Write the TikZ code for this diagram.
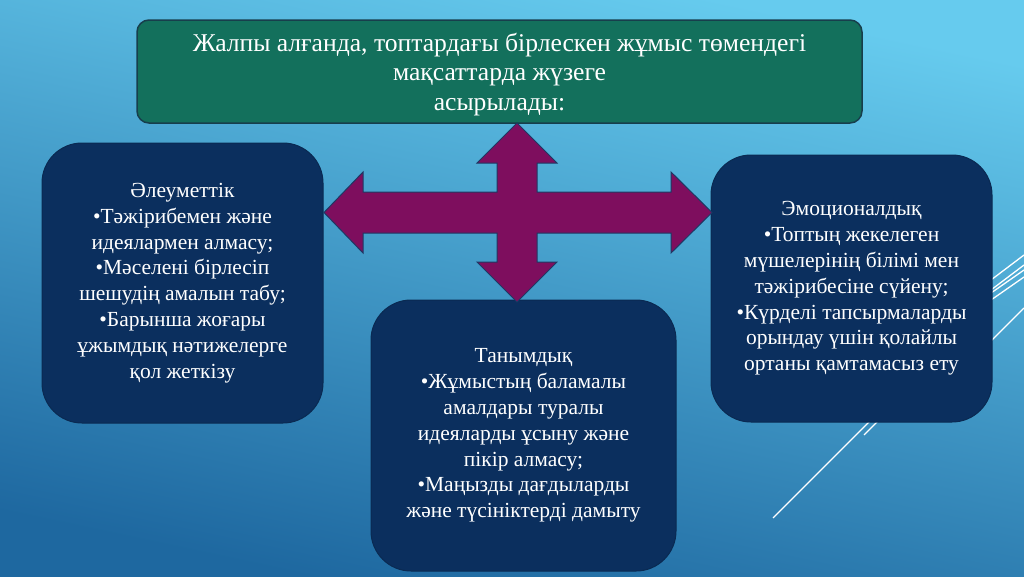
\documentclass[tikz,border=0pt]{standalone}
\usepackage{fontspec}
\setmainfont{Liberation Serif}
\definecolor{bgtop}{HTML}{66CBEE}
\definecolor{bgbot}{HTML}{1E68A0}
\definecolor{boxfill}{HTML}{0B2F5E}
\definecolor{boxline}{HTML}{0A2A52}
\definecolor{topfill}{HTML}{13705C}
\definecolor{topline}{HTML}{173E4C}
\definecolor{crossfill}{HTML}{7E0E5E}
\definecolor{crossline}{HTML}{1F3864}
\begin{document}
\begin{tikzpicture}[x=1pt,y=-1pt,
  bx/.style={draw=boxline, fill=boxfill, rounded corners=40, line width=1,
    text=white, align=center, inner sep=0pt,
    font=\fontsize{21.5}{25.8}\selectfont},
  topbx/.style={draw=topline, fill=topfill, rounded corners=12, line width=1.5,
    text=white, align=center, inner sep=0pt,
    font=\fontsize{25.6}{29.5}\selectfont},
  deco/.style={draw=white, line width=1.3},
  crossarrow/.style={fill=crossfill, draw=crossline, line width=1}]
\useasboundingbox (0,0) rectangle (1024,576);
\shade[top color=bgtop, bottom color=bgbot, shading angle=-12] (0,0) rectangle (1024,576);
% decorative lines (partly hidden behind the right box)
\draw[deco] (773,518) -- (868,423) -- (991,300) -- (1024,277);
\draw[deco] (864,435) -- (877,422) -- (991,293) -- (1024,270);
\draw[deco] (950,311) -- (1024,255);
\draw[deco] (950,321) -- (1024,265);
\draw[deco] (950,382) -- (1024,308);
% boxes
\node[topbx, minimum width=725, minimum height=103] (top) at (499.5,71.5)
  {\rule{0pt}{24pt}Жалпы алғанда, топтардағы бірлескен жұмыс төмендегі\\ мақсаттарда жүзеге\\ асырылады:};
\node[bx, minimum width=281, minimum height=280] (soc) at (182.5,283)
  {Әлеуметтік\\ •Тәжірибемен және\\ идеялармен алмасу;\\ •Мәселені бірлесіп\\ шешудің амалын табу;\\ •Барынша жоғары\\ ұжымдық нәтижелерге\\ қол жеткізу};
\node[bx, minimum width=305, minimum height=271] (cog) at (523.5,435.5)
  {Танымдық\\ •Жұмыстың баламалы\\ амалдары туралы\\ идеяларды ұсыну және\\ пікір алмасу;\\ •Маңызды дағдыларды\\ және түсініктерді дамыту};
\node[bx, minimum width=281, minimum height=267] (emo) at (851.5,288.5)
  {Эмоционалдық\\ •Топтың жекелеген\\ мүшелерінің білімі мен\\ тәжірибесіне сүйену;\\ •Күрделі тапсырмаларды\\ орындау үшін қолайлы\\ ортаны қамтамасыз ету};
% four-way arrow
\draw[crossarrow] (517,123) -- (557,163) -- (537,163) -- (537,192) -- (671,192)
  -- (671,172) -- (712,212.5) -- (671,253) -- (671,233) -- (537,233)
  -- (537,262) -- (557,262) -- (517,302) -- (477,262) -- (497,262)
  -- (497,233) -- (363,233) -- (363,253) -- (324,212.5) -- (363,172)
  -- (363,192) -- (497,192) -- (497,163) -- (477,163) -- cycle;
\end{tikzpicture}
\end{document}
